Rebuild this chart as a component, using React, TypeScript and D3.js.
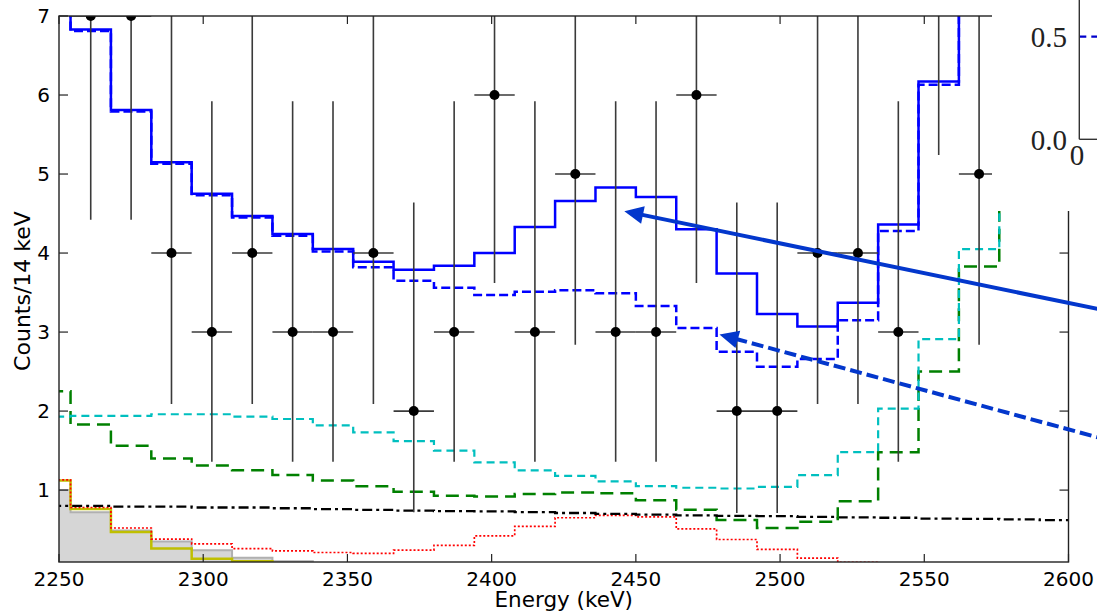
import { useMemo } from 'react';
import * as d3 from 'd3';

// bin lower edges, 14 keV bins
const binLo = [2240, 2254, 2268, 2282, 2296, 2310, 2324, 2338, 2352, 2366, 2380, 2394, 2408,
  2422, 2436, 2450, 2464, 2478, 2492, 2506, 2520, 2534, 2548, 2562, 2576, 2590];
const binW = 14;

const totalFit = [7.9, 6.83, 5.81, 5.15, 4.75, 4.47, 4.24, 4.05, 3.89, 3.79, 3.84, 4.0, 4.33,
  4.66, 4.83, 4.71, 4.3, 3.74, 3.23, 3.07, 3.37, 4.36, 6.17, 8.5, 9.5];
const bkgFit = [7.9, 6.81, 5.79, 5.13, 4.73, 4.45, 4.22, 4.02, 3.82, 3.65, 3.56, 3.47, 3.51,
  3.53, 3.49, 3.33, 3.05, 2.75, 2.56, 2.66, 3.15, 4.28, 6.13, 8.4, 9.5];
const cyanBkg = [1.93, 1.94, 1.94, 1.96, 1.96, 1.93, 1.9, 1.82, 1.73, 1.62, 1.5, 1.35, 1.25,
  1.18, 1.11, 1.05, 1.03, 1.02, 1.04, 1.19, 1.48, 2.03, 2.91, 4.05, 6.0];
const greenBkg = [2.25, 1.83, 1.56, 1.4, 1.31, 1.25, 1.19, 1.12, 1.05, 0.98, 0.93, 0.92, 0.95,
  0.97, 0.96, 0.87, 0.75, 0.62, 0.52, 0.6, 0.86, 1.48, 2.5, 3.83, 6.0];
const flatBkg = [0.8, 0.8, 0.79, 0.79, 0.78, 0.78, 0.77, 0.76, 0.75, 0.74, 0.735, 0.73, 0.72,
  0.71, 0.7, 0.69, 0.68, 0.675, 0.67, 0.66, 0.655, 0.65, 0.64, 0.635, 0.63, 0.62];
const redBkg = [1.13, 0.78, 0.52, 0.38, 0.32, 0.26, 0.23, 0.21, 0.2, 0.24, 0.3, 0.42, 0.54,
  0.65, 0.68, 0.66, 0.51, 0.375, 0.25, 0.14, 0.085, 0.05, 0.03];
const yellowBkg = [1.12, 0.76, 0.47, 0.26, 0.13, 0.1, 0.05, 0.03];
const grayBkg = [1.0, 0.72, 0.49, 0.35, 0.24, 0.145, 0.1, 0.05, 0.03];

// data points
const ptE = [2261, 2275, 2289, 2303, 2317, 2331, 2345, 2359, 2373, 2387, 2401, 2415, 2429,
  2443, 2457, 2471, 2485, 2499, 2513, 2527, 2541, 2555, 2569];
const ptN = [7, 7, 4, 3, 4, 3, 3, 4, 2, 3, 6, 3, 5, 3, 3, 6, 2, 2, 4, 4, 3, 8, 5];
const ptLo = [4.42, 4.42, 2.09, 1.36, 2.09, 1.36, 1.36, 2.09, 0.72, 1.36, 3.62, 1.36, 2.84,
  1.36, 1.36, 3.62, 0.71, 0.71, 2.09, 2.09, 1.36, 5.24, 2.84];
const ptHi = [10.8, 10.8, 7.2, 5.92, 7.2, 5.92, 5.92, 7.2, 4.64, 5.92, 9.6, 5.92, 8.4,
  5.92, 5.92, 9.6, 4.64, 4.64, 7.2, 7.2, 5.92, 12, 8.4];

const xTicks = [2250, 2300, 2350, 2400, 2450, 2500, 2550, 2600];
const yTicks = [1, 2, 3, 4, 5, 6, 7];

// arrows (tip, tail) in data units
const arrowSolid = { tip: [2446, 4.53], tail: [2625, 3.18] };
const arrowDashed = { tip: [2479, 2.97], tail: [2625, 1.52] };

// inset
const insetTicks = ['0.5', '0.0'];

const W = 1097, H = 615;
const L = 59, R = 1068.5, T = 16, B = 562;
const font = 'DejaVu Sans, sans-serif';

export default function App() {
  const x = d3.scaleLinear().domain([2250, 2600]).range([L, R]);
  const y = d3.scaleLinear().domain([0.09, 7]).range([B, T]);

  const stepPath = (vals: number[]) => {
    const pts: [number, number][] = vals.map((v, i) => [binLo[i], v]);
    pts.push([binLo[vals.length - 1] + binW, vals[vals.length - 1]]);
    return d3.line<[number, number]>().x(d => x(d[0])).y(d => y(d[1])).curve(d3.curveStepAfter)(pts) || '';
  };
  const stepArea = (vals: number[]) => {
    const pts: [number, number][] = vals.map((v, i) => [binLo[i], v]);
    pts.push([binLo[vals.length - 1] + binW, vals[vals.length - 1]]);
    return d3.area<[number, number]>().x(d => x(d[0])).y0(y(0)).y1(d => y(d[1])).curve(d3.curveStepAfter)(pts) || '';
  };

  const arrowEls = useMemo(() => {
    const make = (a: { tip: number[]; tail: number[] }, dashed: boolean, key: string) => {
      const tx = x(a.tip[0]), ty = y(a.tip[1]);
      const sx = x(a.tail[0]), sy = y(a.tail[1]);
      const ang = Math.atan2(ty - sy, tx - sx);
      const hl = 19, hw = 9;
      const bx = tx - hl * Math.cos(ang), by = ty - hl * Math.sin(ang);
      const px = -Math.sin(ang) * hw, py = Math.cos(ang) * hw;
      return (
        <g key={key}>
          <line x1={sx} y1={sy} x2={bx + 3 * Math.cos(ang)} y2={by + 3 * Math.sin(ang)}
            stroke="#0337cc" strokeWidth={4} strokeDasharray={dashed ? '12,5' : undefined} />
          <polygon points={`${tx},${ty} ${bx + px},${by + py} ${bx - px},${by - py}`} fill="#0337cc" />
        </g>
      );
    };
    return [make(arrowSolid, false, 's'), make(arrowDashed, true, 'd')];
  }, []);

  const insetY0 = 139.3, insetY05 = 36.7, insetX = 1079.3;

  return (
    <svg width={W} height={H} style={{ position: 'absolute', left: 0, top: 0, background: '#fff' }}>
      <defs>
        <clipPath id="plot">
          <rect x={L} y={T} width={R - L} height={B - T} />
        </clipPath>
      </defs>
      <rect width={W} height={H} fill="#fff" />
      <g clipPath="url(#plot)">
        <path d={stepArea(grayBkg)} fill="#d6d6d6" />
        <path d={stepPath(grayBkg)} fill="none" stroke="#b0b0b0" strokeWidth={2} />
        <path d={stepPath(yellowBkg)} fill="none" stroke="#bfbf00" strokeWidth={2.5} />
        <path d={stepPath(redBkg)} fill="none" stroke="#ff0000" strokeWidth={1.7} strokeDasharray="2,2" />
        <path d={stepPath(flatBkg)} fill="none" stroke="#000" strokeWidth={2.3} strokeDasharray="10,4,3,4" />
        <path d={stepPath(greenBkg)} fill="none" stroke="#008000" strokeWidth={2.5} strokeDasharray="13,7" />
        <path d={stepPath(cyanBkg)} fill="none" stroke="#00bfbf" strokeWidth={2.2} strokeDasharray="8,5" />
        <path d={stepPath(bkgFit)} fill="none" stroke="#0000ff" strokeWidth={2.5} strokeDasharray="9,4" />
        <path d={stepPath(totalFit)} fill="none" stroke="#0000ff" strokeWidth={2.5} />
        {ptE.map((e, i) => (
          <g key={i}>
            <line x1={x(e)} x2={x(e)} y1={y(ptLo[i])} y2={y(ptHi[i])} stroke="#3a3a3a" strokeWidth={1.6} />
            <line x1={x(e - binW / 2)} x2={x(e + binW / 2)} y1={y(ptN[i])} y2={y(ptN[i])} stroke="#3a3a3a" strokeWidth={1.6} />
            <circle cx={x(e)} cy={y(ptN[i])} r={5} fill="#000" />
          </g>
        ))}
      </g>
      {/* frame */}
      <rect x={L} y={T} width={R - L} height={B - T} fill="none" stroke="#222" strokeWidth={1.4} />
      {xTicks.map(t => (
        <g key={t}>
          <line x1={x(t)} x2={x(t)} y1={B} y2={B - 8} stroke="#222" strokeWidth={1.2} />
          <line x1={x(t)} x2={x(t)} y1={T} y2={T + 8} stroke="#222" strokeWidth={1.2} />
          <text x={x(t)} y={586} textAnchor="middle" fontFamily={font} fontSize={20} fill="#000">{t}</text>
        </g>
      ))}
      {yTicks.map(t => (
        <g key={t}>
          <line x1={L} x2={L + 9} y1={y(t)} y2={y(t)} stroke="#222" strokeWidth={1.2} />
          <line x1={R} x2={R - 9} y1={y(t)} y2={y(t)} stroke="#222" strokeWidth={1.2} />
          <text x={50} y={y(t)} dy="0.36em" textAnchor="end" fontFamily={font} fontSize={20} fill="#000">{t}</text>
        </g>
      ))}
      <text x={(L + R) / 2} y={607} textAnchor="middle" fontFamily={font} fontSize={21.5} fill="#000">Energy (keV)</text>
      <text transform={`translate(30,291) rotate(-90)`} textAnchor="middle" fontFamily={font} fontSize={22} fill="#000">Counts/14 keV</text>

      {/* inset (partly outside the figure) */}
      <rect x={992} y={0} width={W - 992} height={211} fill="#fff" />
      <line x1={insetX} x2={W} y1={insetY05} y2={insetY05} stroke="#0000cc" strokeWidth={2.2} strokeDasharray="7,5" />
      <line x1={insetX} x2={insetX} y1={0} y2={insetY0} stroke="#333" strokeWidth={1.4} />
      <line x1={insetX} x2={W} y1={insetY0} y2={insetY0} stroke="#333" strokeWidth={1.4} />
      {insetTicks.map((t, i) => (
        <text key={t} x={1067} y={i === 0 ? insetY05 : insetY0} dy="0.36em" textAnchor="end"
          fontFamily="Liberation Serif, DejaVu Serif, serif" fontSize={29} fill="#222">{t}</text>
      ))}
      <text x={1077} y={165} textAnchor="middle" fontFamily="Liberation Serif, DejaVu Serif, serif" fontSize={29} fill="#222">0</text>

      {arrowEls}
    </svg>
  );
}
